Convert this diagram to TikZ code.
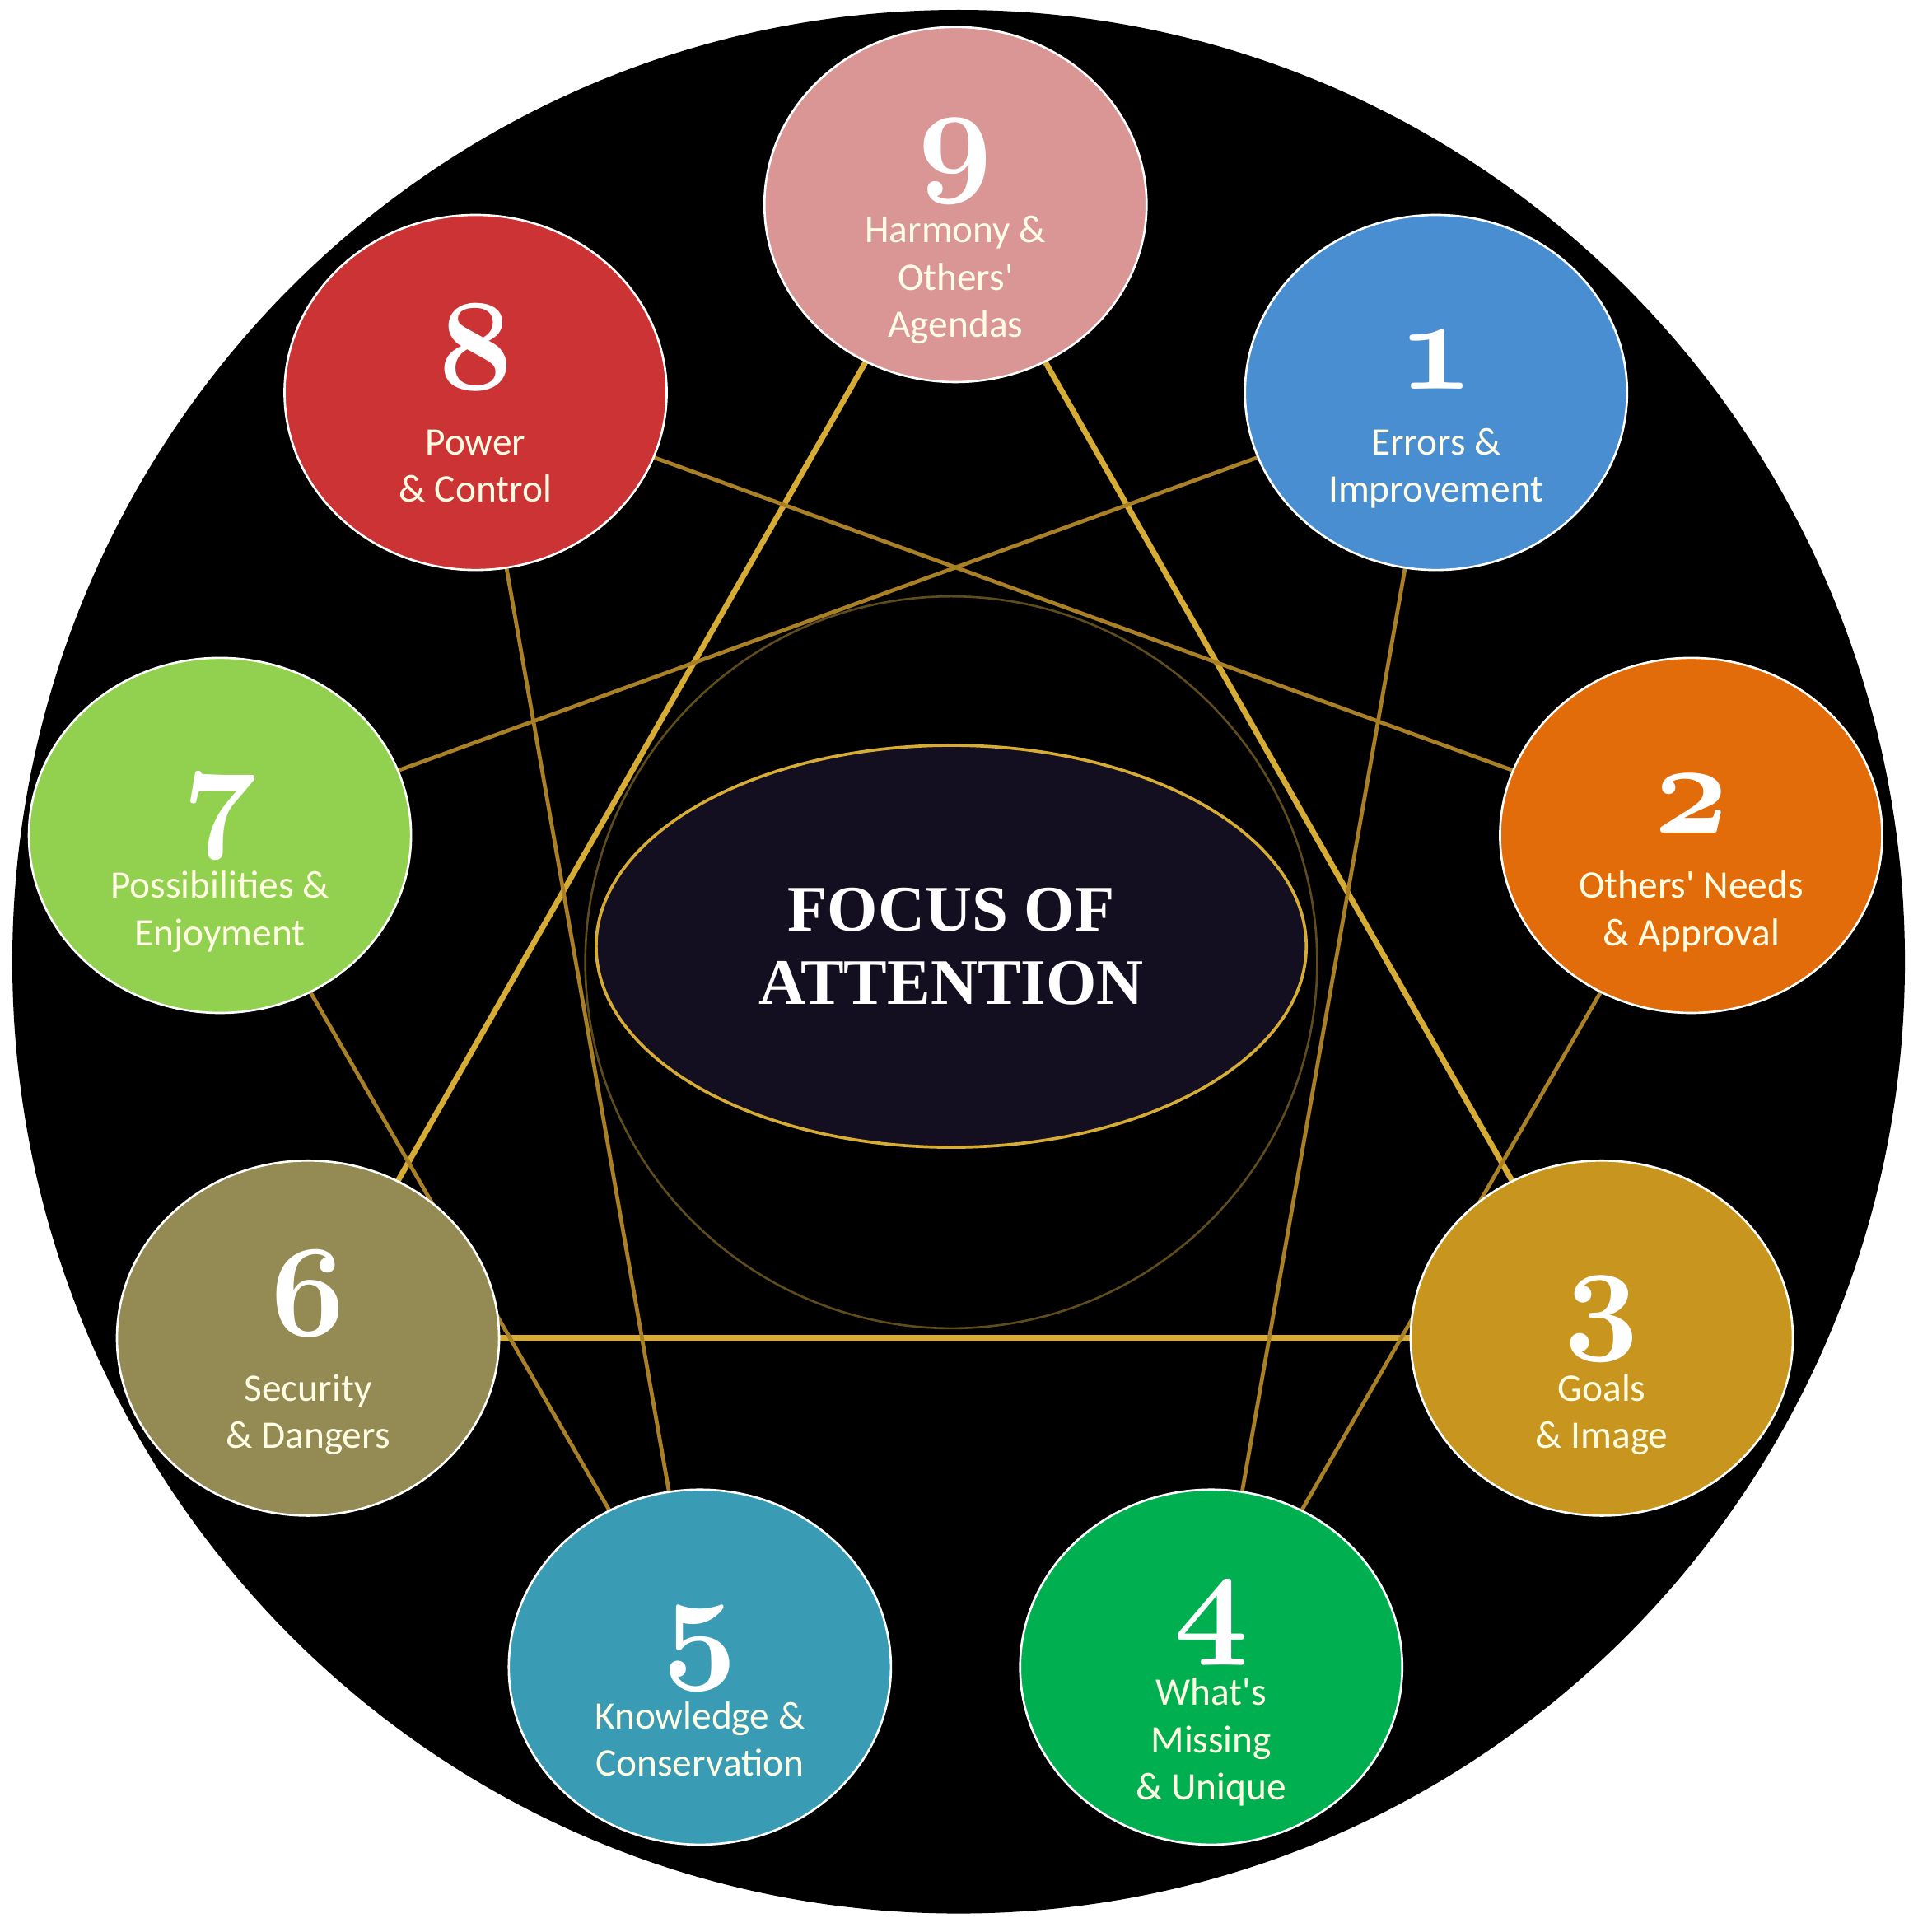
\RequirePackage{fix-cm}
\documentclass[tikz,border=0pt]{standalone}
\usepackage{fontspec}
\usetikzlibrary{shapes.geometric,backgrounds}

\newfontfamily\labfam{Carlito}
\newfontfamily\headfam{Liberation Serif}
\newcommand\numfont{\fontencoding{OML}\fontfamily{cmm}\fontseries{b}\fontshape{it}\fontsize{30}{31}\selectfont}

\definecolor{typeone}{RGB}{74,142,210}
\definecolor{typetwo}{RGB}{227,108,10}
\definecolor{typethree}{RGB}{200,149,30}
\definecolor{typefour}{RGB}{0,176,80}
\definecolor{typefive}{RGB}{58,155,180}
\definecolor{typesix}{RGB}{148,138,84}
\definecolor{typeseven}{RGB}{146,208,80}
\definecolor{typeeight}{RGB}{204,51,53}
\definecolor{typenine}{RGB}{217,150,148}
\definecolor{cream}{RGB}{255,253,228}
\definecolor{goldlite}{RGB}{214,172,52}
\definecolor{golddark}{RGB}{170,128,38}
\definecolor{ringgold}{RGB}{95,76,28}
\definecolor{focusbg}{RGB}{19,15,32}

\begin{document}
\begin{tikzpicture}[
        x=0.01cm, y=-0.01cm,
        enneatype/.style={ellipse, draw=white, line width=0.5pt, minimum width=3.1cm, minimum height=2.88cm, inner sep=0pt, outer sep=0pt},
        num/.style={anchor=base, inner sep=0pt, text=white, font=\numfont},
        lbl/.style={anchor=base, inner sep=0pt, align=center, text=cream, font=\labfam\fontsize{9}{10.95}\selectfont},
        triad/.style={draw=goldlite, line width=1.3pt},
        hexad/.style={draw=golddark, line width=0.9pt},
    ]
    \useasboundingbox (0,0) rectangle (1556,1568);

    % Central focus
    \node[ellipse, fill=focusbg, draw=goldlite, line width=0.7pt, minimum width=5.76cm, minimum height=3.26cm, text=white, align=center, font=\headfam\bfseries\fontsize{15}{16.8}\selectfont] (focus) at (772,768) {FOCUS OF\\ATTENTION};

    % The nine types
    \node[enneatype, fill=typenine] (n9) at (775.5,166) {};
    \node[enneatype, fill=typeone] (n1) at (1165.5,318.5) {};
    \node[enneatype, fill=typetwo] (n2) at (1372.5,678) {};
    \node[enneatype, fill=typethree] (n3) at (1300,1086) {};
    \node[enneatype, fill=typefour] (n4) at (983,1353) {};
    \node[enneatype, fill=typefive] (n5) at (568,1353) {};
    \node[enneatype, fill=typesix] (n6) at (250,1086) {};
    \node[enneatype, fill=typeseven] (n7) at (178.5,678) {};
    \node[enneatype, fill=typeeight] (n8) at (386,318.5) {};

    % Numbers
    \node[num] (d9) at (775.5,144) {9};
    \node[num] (d1) at (1165.5,316) {1};
    \node[num] (d2) at (1372.5,676) {2};
    \node[num] (d3) at (1300,1084) {3};
    \node[num] (d4) at (983,1331) {4};
    \node[num] (d5) at (568,1351) {5};
    \node[num] (d6) at (250,1084) {6};
    \node[num] (d7) at (178.5,676) {7};
    \node[num] (d8) at (386,316) {8};

    % Labels (placed at the baseline of their last line)
    \node[lbl] (w9) at (775.5,274) {Harmony \&\\Others\textquotesingle\\Agendas};
    \node[lbl] (w1) at (1165.5,407.5) {Errors \&\\Improvement};
    \node[lbl] (w2) at (1372.5,767.5) {Others\textquotesingle{} Needs\\\& Approval};
    \node[lbl] (w3) at (1300,1175.5) {Goals\\\& Image};
    \node[lbl] (w4) at (983,1461) {What\textquotesingle s\\Missing\\\& Unique};
    \node[lbl] (w5) at (568,1441.5) {Knowledge \&\\Conservation};
    \node[lbl] (w6) at (250,1175.5) {Security\\\& Dangers};
    \node[lbl] (w7) at (178.5,767.5) {Possibilities \&\\Enjoyment};
    \node[lbl] (w8) at (386,407.5) {Power\\\& Control};

    % Disc, ring and lines go behind
    \begin{scope}[on background layer]
        \fill[white] (0,0) rectangle (1556,1568);
        \fill[black] (778,780.5) ellipse [x radius=768, y radius=772.5];
        \draw[ringgold, line width=0.5pt] (772,781) circle [radius=297];

        \draw[triad] (n9) -- (n3);
        \draw[triad] (n3) -- (n6);
        \draw[triad] (n6) -- (n9);
        \draw[hexad] (n1) -- (n4);
        \draw[hexad] (n4) -- (n2);
        \draw[hexad] (n2) -- (n8);
        \draw[hexad] (n8) -- (n5);
        \draw[hexad] (n5) -- (n7);
        \draw[hexad] (n7) -- (n1);
    \end{scope}
\end{tikzpicture}
\end{document}
